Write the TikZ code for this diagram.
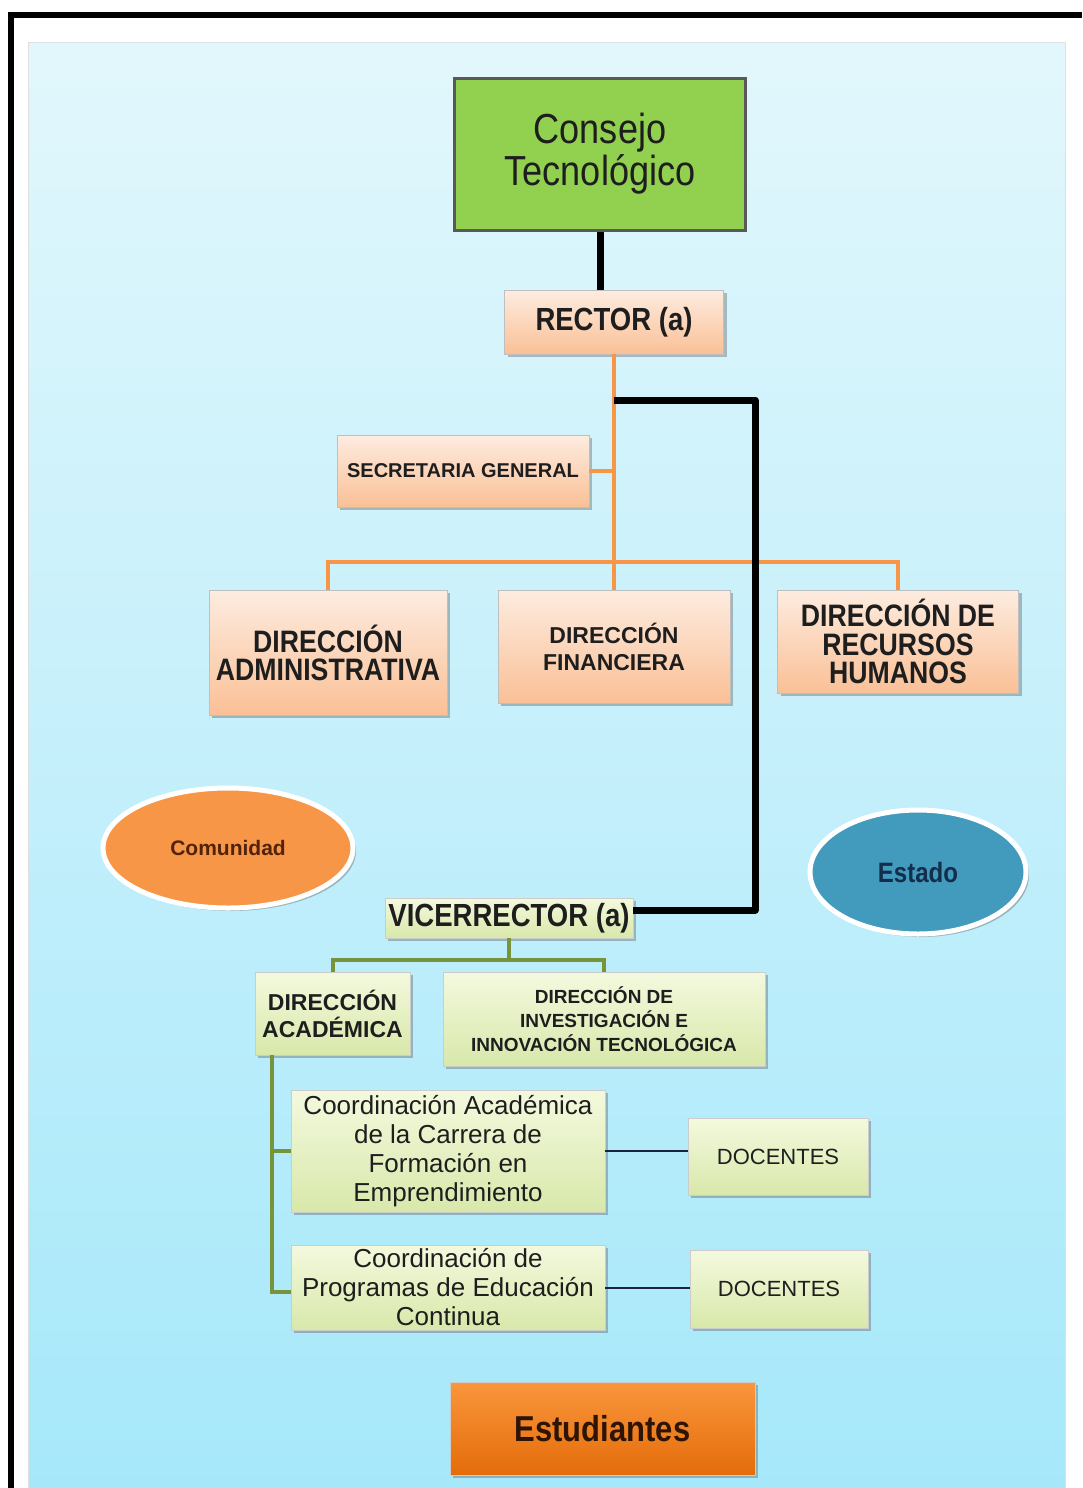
\documentclass[tikz,border=0pt]{standalone}
\usepackage{fontspec}
\setmainfont{Liberation Sans}
\newfontfamily\narrowsans[FakeStretch=0.86]{Liberation Sans}
\usetikzlibrary{shapes.geometric,shadows}

\definecolor{paneltop}{RGB}{226,247,252}
\definecolor{panelbot}{RGB}{166,232,250}
\definecolor{councilgreen}{RGB}{146,208,80}
\definecolor{peachtop}{RGB}{253,236,224}
\definecolor{peachbot}{RGB}{250,192,150}
\definecolor{limetop}{RGB}{244,249,222}
\definecolor{limebot}{RGB}{216,232,170}
\definecolor{linkorange}{RGB}{247,150,70}
\definecolor{linkgreen}{RGB}{119,147,60}
\definecolor{navyline}{RGB}{25,35,60}
\definecolor{textdark}{RGB}{30,30,30}
\definecolor{communityorange}{RGB}{247,150,70}
\definecolor{stateblue}{RGB}{66,154,188}
\definecolor{studenttop}{RGB}{250,150,60}
\definecolor{studentbot}{RGB}{228,108,10}

\begin{document}
\begin{tikzpicture}[
  x=0.5pt, y=-0.5pt,
  every node/.style={align=center, inner sep=0pt, text=textdark},
  shade/.style={drop shadow={shadow xshift=1.5pt, shadow yshift=-1.5pt, opacity=0.35, fill=black!70}},
  council/.style={draw=black!65, line width=1.5pt, fill=councilgreen},
  peachbox/.style={draw=black!25, top color=peachtop, bottom color=peachbot, shade},
  limebox/.style={draw=black!20, top color=limetop, bottom color=limebot, shade},
  roundbox/.style={ellipse, draw=white, line width=2.5pt, shade},
  orangeline/.style={draw=linkorange, line width=2pt},
  greenline/.style={draw=linkgreen, line width=2pt},
  blackline/.style={line width=3.5pt, line join=round},
  docline/.style={draw=navyline, line width=1pt}]

  % frame and panel
  \useasboundingbox (0,0) rectangle (1082,1488);
  \fill[white] (0,0) rectangle (1082,1488);
  \fill[top color=paneltop, bottom color=panelbot, draw=black!12] (28,42) rectangle (1065,1488);
  \draw[line width=3pt] (11,1488) -- (11,15) -- (1082,15);

  % upper part
  \node[council, minimum width=145.5pt, minimum height=76pt,
        font=\narrowsans\fontsize{21}{21}\selectfont] (consejo) at (600,154) {Consejo\\Tecnológico};
  \node[peachbox, minimum width=109.5pt, minimum height=32pt,
        font=\narrowsans\bfseries\fontsize{16}{16}\selectfont] (rector) at (614,322) {RECTOR (a)};
  \node[peachbox, minimum width=126pt, minimum height=36pt,
        font=\bfseries\fontsize{10}{12}\selectfont] (secretaria) at (463,471) {SECRETARIA GENERAL};
  \node[peachbox, minimum width=119pt, minimum height=62.5pt,
        font=\narrowsans\bfseries\fontsize{15.5}{14}\selectfont] (diradm) at (328,652.5) {DIRECCIÓN\\ADMINISTRATIVA};
  \node[peachbox, minimum width=116pt, minimum height=56.5pt,
        font=\bfseries\fontsize{11.5}{13.5}\selectfont] (dirfin) at (614,646.5) {DIRECCIÓN\\FINANCIERA};
  \node[peachbox, minimum width=120.5pt, minimum height=51.5pt,
        font=\narrowsans\bfseries\fontsize{15.5}{14.25}\selectfont] (dirrh) at (898,641.5) {DIRECCIÓN DE\\RECURSOS\\HUMANOS};

  % side groups
  \node[roundbox, fill=communityorange, minimum width=125pt, minimum height=60pt,
        font=\bfseries\fontsize{10.5}{12}\selectfont, text={rgb,255:red,80;green,35;blue,10}] (comunidad) at (228,848) {Comunidad};
  \node[roundbox, fill=stateblue, minimum width=108pt, minimum height=62pt,
        font=\narrowsans\bfseries\fontsize{14}{16}\selectfont, text={rgb,255:red,20;green,45;blue,75}] (estado) at (918,872) {Estado};

  % lower part
  \node[limebox, minimum width=124pt, minimum height=20pt,
        font=\narrowsans\bfseries\fontsize{16}{16}\selectfont] (vice) at (509,918) {VICERRECTOR (a)};
  \node[limebox, minimum width=77.5pt, minimum height=41.5pt,
        font=\bfseries\fontsize{11.5}{13.5}\selectfont] (diracad) at (332.5,1013.5) {DIRECCIÓN\\ACADÉMICA};
  \node[limebox, minimum width=161pt, minimum height=47pt,
        font=\bfseries\fontsize{9.5}{12}\selectfont] (dirinv) at (604,1019) {DIRECCIÓN DE\\INVESTIGACIÓN E\\INNOVACIÓN TECNOLÓGICA};
  \node[limebox, minimum width=157pt, minimum height=61pt,
        font=\fontsize{13}{14.5}\selectfont] (coordcarrera) at (448,1151) {Coordinación Académica\\de la Carrera de\\Formación en\\Emprendimiento};
  \node[limebox, minimum width=157pt, minimum height=42.5pt,
        font=\fontsize{13}{14.5}\selectfont] (coordcontinua) at (448,1287.5) {Coordinación de\\Programas de Educación\\Continua};
  \node[limebox, minimum width=90pt, minimum height=38.5pt,
        font=\fontsize{11}{13}\selectfont] (docentesA) at (778,1156.5) {DOCENTES};
  \node[limebox, minimum width=89pt, minimum height=39pt,
        font=\fontsize{11}{13}\selectfont] (docentesB) at (779,1289) {DOCENTES};
  \node[draw=black!20, top color=studenttop, bottom color=studentbot, shade,
        minimum width=152.5pt, minimum height=46.5pt,
        font=\narrowsans\bfseries\fontsize{18}{20}\selectfont, text={rgb,255:red,45;green,20;blue,5}] (estudiantes) at (602.5,1428.5) {Estudiantes};

  % connectors
  \coordinate (bus) at (614,562);
  \coordinate (bend) at (755,400);
  \coordinate (gbus) at (509,960);
  \coordinate (gtrunk) at (272,1055);

  \draw[blackline] (consejo.south) -- (consejo.south |- rector.north);
  \draw[orangeline] (rector.south) -- (dirfin.north);
  \draw[orangeline] (secretaria.east) -- (secretaria.east -| rector.south);
  \draw[orangeline] (diradm.north) |- (bus) -| (dirrh.north);
  \draw[blackline] (bend -| rector.south) -- (bend) |- ([yshift=4pt]vice.east);

  \draw[greenline] (vice.south) -- (gbus);
  \draw[greenline] (diracad.north) |- (gbus) -| (dirinv.north);
  \draw[greenline] (gtrunk) |- (coordcarrera.west);
  \draw[greenline] (gtrunk) |- ([yshift=-2pt]coordcontinua.west);
  \draw[docline] (coordcarrera.east) -- (coordcarrera.east -| docentesA.west);
  \draw[docline] (coordcontinua.east) -- (coordcontinua.east -| docentesB.west);

\end{tikzpicture}
\end{document}
